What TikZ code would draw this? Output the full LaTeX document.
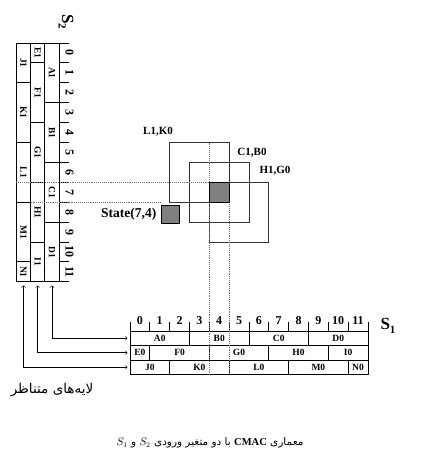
\documentclass[tikz,border=0pt]{standalone}
\usepackage{fontspec}
\setmainfont{Liberation Serif}
\newfontfamily\arabicfont[Script=Arabic]{DejaVu Sans}
\TeXXeTstate=1
\usetikzlibrary{positioning}

\tikzset{
  cell/.style={draw=black, line width=0.9pt},
  lbl/.style={font=\bfseries\fontsize{9.5}{10}\selectfont, inner sep=0pt},
  num/.style={font=\bfseries\fontsize{12}{12}\selectfont, inner sep=0pt},
  fieldbox/.style={draw=black!80, line width=1pt},
  fieldlbl/.style={font=\bfseries\fontsize{11}{11}\selectfont, inner sep=0pt},
  guide/.style={draw=black!55, densely dotted, line width=0.9pt},
  hitcell/.style={draw=black, fill=black!50, line width=1pt},
  link/.style={<->, line width=0.6pt},
}

\begin{document}
\begin{tikzpicture}[x=1pt, y=-1pt]
\useasboundingbox (0,0) rectangle (421,460);
% S1 axis and its three layers
\foreach \k in {0,...,12}
  \draw[cell] ({130+\k*19.83},331) -- ++(0,-9.5);
\foreach \k in {0,...,11}
  \node[num] (sa\k) at ({139.9+\k*19.83},320.5) {\k};
\node[font=\bfseries\fontsize{17}{17}\selectfont, inner sep=0pt] (sone) at (388,326)
  {S\raisebox{-0.45ex}{\fontsize{11}{11}\selectfont 1}};
\foreach \a/\b/\t in {0/3/A0, 3/6/B0, 6/9/C0, 9/12/D0}
  \draw[cell] ({130+\a*19.83},331) rectangle node[lbl] (\t) {\t} ({130+\b*19.83},345.5);
\foreach \a/\b/\t in {0/1/E0, 1/4/F0, 4/7/G0, 7/10/H0, 10/12/I0}
  \draw[cell] ({130+\a*19.83},345.5) rectangle node[lbl] (\t) {\t} ({130+\b*19.83},360);
\foreach \a/\b/\t in {0/2/J0, 2/5/K0, 5/8/L0, 8/11/M0, 11/12/N0}
  \draw[cell] ({130+\a*19.83},360) rectangle node[lbl] (\t) {\t} ({130+\b*19.83},374.5);
% S2 axis and its three layers
\foreach \k in {0,...,12}
  \draw[cell] (59,{43+\k*19.9}) -- ++(9.5,0);
\foreach \k in {0,...,11}
  \node[num, rotate=-90] (sb\k) at (69.5,{52.95+\k*19.9}) {\k};
\node[font=\bfseries\fontsize{17}{17}\selectfont, inner sep=0pt, rotate=-90] (stwo) at (66,22)
  {S\raisebox{-0.45ex}{\fontsize{11}{11}\selectfont 2}};
\foreach \a/\b/\t in {0/3/A1, 3/6/B1, 6/9/C1, 9/12/D1}
  \draw[cell] (44.8,{43+\a*19.9}) rectangle node[lbl, rotate=-90] (\t) {\t} (59,{43+\b*19.9});
\foreach \a/\b/\t in {0/1/E1, 1/4/F1, 4/7/G1, 7/10/H1, 10/12/I1}
  \draw[cell] (30.6,{43+\a*19.9}) rectangle node[lbl, rotate=-90] (\t) {\t} (44.8,{43+\b*19.9});
\foreach \a/\b/\t in {0/2/J1, 2/5/K1, 5/8/L1, 8/11/M1, 11/12/N1}
  \draw[cell] (16.4,{43+\a*19.9}) rectangle node[lbl, rotate=-90] (\t) {\t} (30.6,{43+\b*19.9});
% active receptive fields
\draw[fieldbox] (169.7,142.5) rectangle (229.2,202.2);
\draw[fieldbox] (189.5,162.4) rectangle (249.0,222.1);
\draw[fieldbox] (209.3,182.3) rectangle (268.8,242.0);
\node[fieldlbl] (lk) at (158,132) {L1,K0};
\node[fieldlbl] (cb) at (252,153) {C1,B0};
\node[fieldlbl] (hg) at (275,171) {H1,G0};
% state (7,4)
\draw[guide] (209.3,142.5) -- (209.3,374.5);
\draw[guide] (229.2,202.2) -- (229.2,374.5);
\draw[guide] (16.4,182.3) -- (209.3,182.3);
\draw[guide] (30.6,202.2) -- (160,202.2);
\draw[hitcell] (209.3,182.3) rectangle (229.2,202.2);
\node[hitcell, minimum size=18pt, inner sep=0pt] (mark) at (170,214) {};
\node[font=\bfseries\fontsize{13.5}{14}\selectfont, inner sep=0pt, left=4pt of mark] (state) {State(7,4)};
% layers linked
\coordinate (tA) at (51.9,285.5);
\coordinate (tE) at (37.7,285.5);
\coordinate (tJ) at (23.5,285.5);
\coordinate (rA) at (127.5,338.25);
\coordinate (rE) at (127.5,352.75);
\coordinate (rJ) at (127.5,367.25);
\draw[link] (tA) |- (rA);
\draw[link] (tE) |- (rE);
\draw[link] (tJ) |- (rJ);
\node[font=\arabicfont\fontsize{13.5}{14}\selectfont, inner sep=0pt] (layers) at (52,390)
  {\beginR لایه‌های متناظر\endR};
\node[font=\arabicfont\fontsize{10.5}{11}\selectfont, inner sep=0pt] (caption) at (210,443)
  {\beginR معماری {\rmfamily\bfseries CMAC} با دو متغیر ورودی \beginL$S_2$\endL{} و \beginL$S_1$\endL\endR};
\end{tikzpicture}
\end{document}
